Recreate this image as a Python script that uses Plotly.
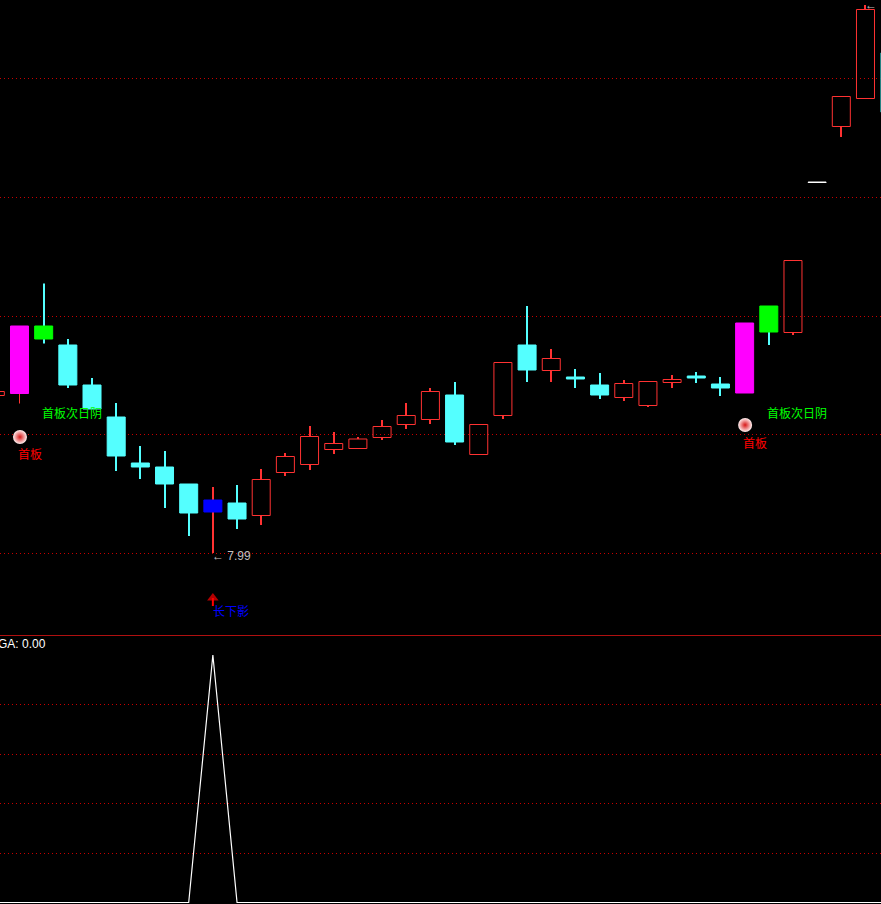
import plotly.graph_objects as go

# Candlestick data: index, open, high, low, close, style
bar_index = list(range(-1, 37))
opens = [11.14, 11.18, 12.53, 12.15, 11.35, 10.71, 9.79, 9.71, 9.37, 9.05, 8.99, 8.74, 9.60, 9.76, 10.06, 10.08, 10.30, 10.56, 10.66,
         11.15, 9.96, 10.74, 12.15, 11.64, 11.51, 11.35, 11.10, 10.94, 11.40, 11.53, 11.37, 11.19, 12.93, 12.40, 15.40, 16.52, 17.08, 17.99]
closes = [11.22, 12.53, 12.27, 11.35, 10.87, 9.93, 9.71, 9.37, 8.79, 8.81, 8.67, 9.46, 9.92, 10.32, 10.18, 10.27, 10.52, 10.74, 11.22,
          10.21, 10.56, 11.80, 11.65, 11.88, 11.47, 11.15, 11.38, 11.42, 11.46, 11.49, 11.29, 12.59, 12.41, 13.84, 15.41, 17.12, 18.86, 16.81]
highs = [11.22, 12.53, 13.38, 12.27, 11.49, 10.99, 10.13, 10.03, 9.37, 9.31, 9.35, 9.67, 9.99, 10.53, 10.41, 10.31, 10.65, 10.99, 11.29,
         11.41, 10.56, 11.80, 12.93, 12.07, 11.67, 11.59, 11.45, 11.42, 11.55, 11.61, 11.51, 12.59, 12.93, 13.84, 15.41, 17.12, 18.95, 17.99]
lows = [11.14, 10.98, 12.18, 11.29, 10.87, 9.63, 9.47, 8.89, 8.33, 7.99, 8.47, 8.55, 9.53, 9.65, 9.97, 10.08, 10.25, 10.47, 10.57,
        10.15, 9.96, 10.67, 11.41, 11.41, 11.29, 11.07, 11.03, 10.91, 11.29, 11.39, 11.13, 11.19, 12.15, 12.35, 15.40, 16.31, 17.08, 16.81]
styles = ["up", "limit", "first_neg", "down", "down", "down", "down", "down", "down", "long_shadow", "down", "up", "up", "up", "up",
          "up", "up", "up", "up", "down", "up", "up", "down", "up", "down", "down", "up", "up", "up", "down", "down", "limit",
          "first_neg", "up", "flat", "up", "up", "edge"]

price_grid = [7.98, 10.36, 12.72, 15.10, 17.48]

# First-limit markers and the long-shadow signal arrow
ball_x = [0.02, 30.02]
ball_y = [10.31, 10.55]
signal_x = [8, 8]
signal_y = [6.93, 7.09]

# Indicator panel
ga_x = [-1, 7, 8, 9, 36]
ga_y = [0, 0, 1, 0, 0]
ga_grid = [0.198, 0.4, 0.598, 0.8]

RED = "#ff3232"
CYAN = "#54ffff"
FILL = {"down": CYAN, "limit": "#ff00ff", "first_neg": "#00ff00", "long_shadow": "#0000ff", "up": "rgba(0,0,0,0)", "flat": "#ffffff", "edge": "#2a9090"}
EDGE = {"down": CYAN, "limit": "#ff00ff", "first_neg": "#00ff00", "long_shadow": "#0000ff", "up": RED, "flat": "#ffffff", "edge": "#2a9090"}
WICK = {"down": CYAN, "limit": RED, "first_neg": CYAN, "long_shadow": RED, "up": RED, "flat": "#ffffff", "edge": "#2a9090"}

fig = go.Figure()

# wicks, drawn only outside the body
wx, wbase, wlen, wcol = [], [], [], []
for i, o, h, l, c, s in zip(bar_index, opens, highs, lows, closes, styles):
    top, bot = max(o, c), min(o, c)
    if h > top:
        wx.append(i); wbase.append(top); wlen.append(h - top); wcol.append(WICK[s])
    if l < bot:
        wx.append(i); wbase.append(l); wlen.append(bot - l); wcol.append(WICK[s])
fig.add_trace(go.Bar(x=wx, base=wbase, y=wlen, width=0.0414,
                     marker=dict(color=wcol, line=dict(width=0)), hoverinfo="skip"))

# bodies
fig.add_trace(go.Bar(
    x=bar_index,
    base=[min(o, c) for o, c in zip(opens, closes)],
    y=[abs(c - o) for o, c in zip(opens, closes)],
    width=0.745,
    marker=dict(color=[FILL[s] for s in styles], line=dict(color=[EDGE[s] for s in styles], width=1)),
    hoverinfo="skip",
))

fig.add_trace(go.Scatter(
    x=ball_x, y=ball_y, mode="markers",
    marker=dict(size=14, color="#fff0f0", gradient=dict(type="radial", color="#d81818"), line=dict(width=0)),
    hoverinfo="skip",
))

# red up-arrow: a shaft with a triangular head
fig.add_trace(go.Scatter(
    x=signal_x, y=signal_y, mode="lines+markers",
    line=dict(color="#ff0000", width=2),
    marker=dict(symbol=["circle", "triangle-up"], size=[0, 10], color="#ff0000", line=dict(width=0)),
    hoverinfo="skip",
))

# indicator line
fig.add_trace(go.Scatter(x=ga_x, y=ga_y, mode="lines", line=dict(color="#ffffff", width=1.2),
                         xaxis="x2", yaxis="y2", hoverinfo="skip"))

CJK = "Noto Sans CJK SC"
LAT = "Liberation Sans"
notes = [
    dict(text="首板次日阴", x=0.94, y=10.81, color="#00ff00", font=CJK),
    dict(text="首板次日阴", x=30.92, y=10.81, color="#00ff00", font=CJK),
    dict(text="首板", x=-0.08, y=9.99, color="#ff0000", font=CJK),
    dict(text="首板", x=29.92, y=10.21, color="#ff0000", font=CJK),
    dict(text="长下影", x=8.0, y=6.85, color="#0000ff", font=CJK),
    dict(text="← 7.99", x=7.96, y=7.94, color="#c0c0c0", font=LAT),
    dict(text="←", x=34.96, y=18.96, color="#c0c0c0", font=LAT),
]
annotations = [
    dict(text=n["text"], x=n["x"], y=n["y"], xref="x", yref="y", xanchor="left", yanchor="middle",
         showarrow=False, font=dict(family=n["font"], size=12, color=n["color"]), borderpad=0, borderwidth=0)
    for n in notes
]
annotations.append(dict(text="GA: 0.00", x=-0.005, y=1.044, xref="paper", yref="y2", xanchor="left", yanchor="middle",
                        showarrow=False, font=dict(family=LAT, size=12, color="#ffffff")))

GRID = "#c80000"
axis_common = dict(showticklabels=False, ticks="", zeroline=False, fixedrange=True)
XR = [-0.8068, 35.642]
fig.update_layout(
    width=881, height=904,
    margin=dict(l=0, r=0, t=0, b=0),
    paper_bgcolor="#000000", plot_bgcolor="#000000",
    showlegend=False,
    barmode="overlay",
    annotations=annotations,
    xaxis=dict(range=XR, domain=[0, 1], anchor="y", showgrid=False, showline=True,
               linecolor="#b01010", linewidth=1, **axis_common),
    yaxis=dict(range=[6.35, 19.05], domain=[269 / 904, 1], anchor="x", tickmode="array", tickvals=price_grid,
               showgrid=True, gridcolor=GRID, gridwidth=1, griddash="1px,3px", **axis_common),
    xaxis2=dict(range=XR, domain=[0, 1], anchor="y2", showgrid=False, **axis_common),
    yaxis2=dict(range=[-0.00606, 1.0768], domain=[0, 268 / 904], anchor="x2", tickmode="array", tickvals=ga_grid,
                showgrid=True, gridcolor=GRID, gridwidth=1, griddash="1px,3px", **axis_common),
)

fig.write_html("out.html", config=dict(displayModeBar=False),
               post_script="document.body.style.margin='0';document.body.style.background='#000';document.body.style.overflow='hidden';")
